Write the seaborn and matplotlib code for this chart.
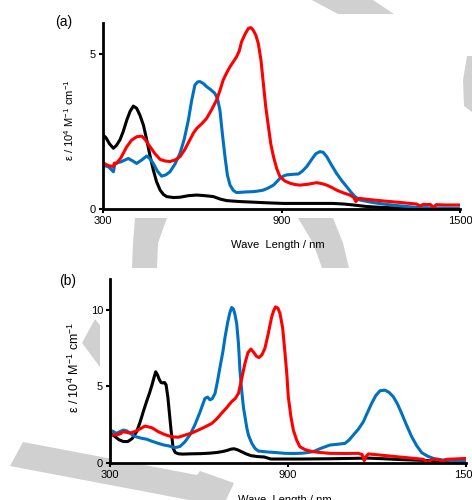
import numpy as np
import pandas as pd
import matplotlib
matplotlib.use("Agg")
import matplotlib.pyplot as plt
from matplotlib.patches import Polygon
import seaborn as sns

# ---------------- data ----------------
series_names = ["black", "blue", "red"]
series_colors = {"black": "#000000", "blue": "#0070C0", "red": "#FF0000"}

a_black_x = [300, 310, 322, 335, 345, 357, 368, 380, 391, 402, 413, 424, 436, 447, 458, 469, 480, 492, 503, 514,
             537, 559, 587, 615, 643, 671, 694, 716, 760, 805, 850, 906, 990, 1074, 1110, 1141, 1186, 1240, 1298,
             1400, 1500]
a_black_y = [2.39, 2.30, 2.10, 1.96, 2.05, 2.23, 2.50, 2.87, 3.15, 3.32, 3.25, 3.03, 2.70, 2.23, 1.72, 1.26, 0.88,
             0.61, 0.47, 0.40, 0.37, 0.38, 0.43, 0.45, 0.43, 0.40, 0.32, 0.27, 0.24, 0.22, 0.20, 0.18, 0.18, 0.18,
             0.16, 0.13, 0.08, 0.05, 0.03, 0.02, 0.02]

a_blue_x = [300, 320, 335, 340, 360, 385, 400, 413, 430, 447, 458, 469, 483, 497, 511, 525, 542, 559, 573, 587,
            598, 609, 618, 626, 637, 648, 662, 676, 685, 693, 701, 710, 718, 727, 738, 749, 780, 805, 822, 839, 856,
            873, 884, 895, 906, 917, 940, 957, 970, 985, 1000, 1015, 1029, 1040, 1052, 1068, 1085, 1102, 1119, 1133,
            1147, 1164, 1200, 1242, 1300, 1354, 1420, 1500]
a_blue_y = [1.42, 1.35, 1.20, 1.47, 1.52, 1.63, 1.55, 1.47, 1.58, 1.71, 1.62, 1.47, 1.22, 1.06, 1.10, 1.20, 1.45,
            1.80, 2.25, 2.87, 3.50, 4.00, 4.10, 4.11, 4.05, 3.95, 3.85, 3.73, 3.55, 3.19, 2.45, 1.69, 1.10, 0.77,
            0.60, 0.53, 0.55, 0.56, 0.58, 0.61, 0.68, 0.77, 0.88, 0.99, 1.06, 1.10, 1.12, 1.13, 1.22, 1.37, 1.58,
            1.78, 1.85, 1.83, 1.69, 1.42, 1.15, 0.92, 0.72, 0.55, 0.40, 0.29, 0.22, 0.16, 0.10, 0.05, 0.03, 0.02]

a_red_x = [300, 318, 335, 338, 345, 360, 380, 396, 413, 430, 441, 458, 475, 492, 508, 525, 542, 559, 575, 592,
           604, 615, 632, 648, 665, 682, 693, 704, 716, 727, 738, 749, 758, 766, 778, 789, 797, 805, 814, 822, 831,
           839, 847, 856, 864, 873, 884, 895, 912, 929, 945, 962, 990, 1018, 1035, 1052, 1068, 1085, 1108, 1130,
           1142, 1150, 1158, 1164, 1200, 1242, 1300, 1354, 1365, 1377, 1390, 1400, 1411, 1420, 1450, 1500]
a_red_y = [1.49, 1.40, 1.37, 1.48, 1.47, 1.65, 2.01, 2.22, 2.33, 2.35, 2.25, 2.01, 1.78, 1.60, 1.55, 1.53, 1.58,
           1.69, 1.92, 2.23, 2.45, 2.60, 2.75, 2.92, 3.20, 3.52, 3.82, 4.16, 4.40, 4.59, 4.75, 4.91, 5.10, 5.40,
           5.65, 5.83, 5.85, 5.77, 5.60, 5.34, 4.80, 4.05, 3.30, 2.66, 2.10, 1.69, 1.30, 1.04, 0.90, 0.83, 0.79,
           0.77, 0.80, 0.85, 0.82, 0.77, 0.70, 0.61, 0.52, 0.45, 0.38, 0.24, 0.33, 0.34, 0.30, 0.26, 0.21, 0.16,
           0.10, 0.15, 0.14, 0.15, 0.05, 0.14, 0.13, 0.13]

b_black_x = [300, 315, 330, 345, 360, 375, 390, 402, 413, 424, 433, 441, 448, 454, 460, 466, 472, 478, 484, 489,
             495, 500, 506, 513, 520, 531, 545, 575, 605, 635, 662, 680, 695, 707, 718, 730, 741, 758, 775, 797,
             820, 842, 900, 944, 1050, 1170, 1230, 1283, 1400, 1500]
b_black_y = [1.95, 1.75, 1.52, 1.40, 1.40, 1.60, 2.05, 2.70, 3.40, 4.05, 4.55, 5.05, 5.55, 5.95, 5.75, 5.45, 5.25,
             5.22, 5.25, 5.10, 4.30, 3.30, 2.10, 0.95, 0.68, 0.60, 0.58, 0.60, 0.61, 0.64, 0.69, 0.75, 0.82, 0.90,
             0.93, 0.86, 0.76, 0.60, 0.48, 0.42, 0.39, 0.26, 0.26, 0.26, 0.28, 0.32, 0.27, 0.22, 0.14, 0.11]

b_blue_x = [300, 311, 322, 334, 345, 356, 368, 379, 390, 407, 424, 441, 463, 480, 497, 519, 536, 553, 570, 586,
            603, 620, 629, 637, 645, 654, 662, 671, 680, 688, 697, 704, 710, 716, 721, 727, 733, 738, 744, 750,
            755, 761, 767, 778, 789, 800, 830, 860, 890, 920, 950, 985, 1010, 1041, 1066, 1092, 1106, 1120, 1137,
            1154, 1168, 1182, 1196, 1210, 1227, 1241, 1255, 1269, 1283, 1300, 1317, 1334, 1351, 1370, 1390, 1420,
            1460, 1500]
b_blue_y = [2.15, 2.05, 1.93, 2.05, 2.15, 2.10, 1.95, 1.78, 1.70, 1.61, 1.55, 1.42, 1.28, 1.18, 1.12, 1.00, 1.08,
            1.39, 1.85, 2.48, 3.30, 4.21, 4.30, 4.12, 4.20, 4.54, 5.30, 6.27, 7.20, 8.23, 9.20, 9.80, 10.14, 10.05,
            9.70, 9.10, 7.80, 6.06, 4.70, 3.60, 3.02, 2.30, 1.80, 1.28, 0.95, 0.78, 0.72, 0.68, 0.63, 0.62, 0.64,
            0.74, 0.95, 1.17, 1.22, 1.28, 1.50, 1.82, 2.20, 2.69, 3.30, 3.89, 4.40, 4.71, 4.75, 4.60, 4.32, 3.85,
            3.24, 2.45, 1.71, 1.12, 0.67, 0.45, 0.30, 0.20, 0.15, 0.10]

b_red_x = [300, 322, 334, 345, 356, 368, 390, 418, 441, 463, 485, 508, 530, 553, 575, 598, 620, 643, 660, 676,
           693, 710, 722, 733, 744, 755, 765, 775, 785, 794, 802, 812, 822, 833, 845, 852, 858, 866, 873, 882, 890,
           896, 901, 910, 918, 929, 940, 957, 974, 1000, 1041, 1090, 1137, 1150, 1157, 1164, 1171, 1220, 1266,
           1310, 1356, 1363, 1370, 1378, 1386, 1410, 1420, 1428, 1435, 1470, 1500]
b_red_y = [1.83, 1.83, 1.90, 2.04, 2.00, 1.95, 2.10, 2.41, 2.30, 2.04, 1.85, 1.71, 1.68, 1.82, 1.95, 2.15, 2.35,
           2.58, 2.88, 3.24, 3.60, 4.00, 4.20, 4.54, 5.50, 6.50, 7.20, 7.43, 7.20, 6.95, 6.88, 7.05, 7.47, 8.40,
           9.53, 9.95, 10.18, 10.10, 9.75, 8.80, 7.15, 5.80, 4.32, 3.00, 2.15, 1.50, 1.06, 0.88, 0.78, 0.70, 0.63,
           0.62, 0.63, 0.55, 0.15, 0.45, 0.59, 0.50, 0.41, 0.33, 0.24, 0.15, 0.02, 0.15, 0.24, 0.22, 0.02, 0.20,
           0.24, 0.27, 0.30]

x_ticks = [300, 900, 1500]
a_y_ticks = [0, 5]
b_y_ticks = [0, 5, 10]
panel_labels = ["(a)", "(b)"]
x_label = "Wave  Length / nm"
y_label = r"$\varepsilon$ / 10$^{4}$ M$^{-1}$ cm$^{-1}$"


def long_frame(xs, ys):
    frames = []
    for name, x, y in zip(series_names, xs, ys):
        frames.append(pd.DataFrame({"wl": x, "eps": y, "series": name}))
    return pd.concat(frames, ignore_index=True)


df_a = long_frame([a_black_x, a_blue_x, a_red_x], [a_black_y, a_blue_y, a_red_y])
df_b = long_frame([b_black_x, b_blue_x, b_red_x], [b_black_y, b_blue_y, b_red_y])

# ---------------- style ----------------
sns.set_theme(style="white")
plt.rcParams["font.family"] = ["Liberation Sans", "DejaVu Sans"]
plt.rcParams["mathtext.fontset"] = "custom"
plt.rcParams["mathtext.rm"] = "Liberation Sans"
plt.rcParams["mathtext.it"] = "Liberation Sans:italic"
plt.rcParams["mathtext.default"] = "regular"

W, H = 472, 500
fig = plt.figure(figsize=(W / 100, H / 100), dpi=100)
fig.patch.set_facecolor("white")


def px_rect(left, top, right, bottom):
    return [left / W, 1 - bottom / H, (right - left) / W, (bottom - top) / H]


# ---------------- decorative watermark (background) ----------------
wm_color = "#d0d0d0"
wm_shapes = [
    [(312, 0), (373, 0), (394, 14), (338, 14)],
    [(467, 56), (472, 56), (472, 112), (464, 106), (463, 80)],
    [(135, 218), (167, 218), (158, 243), (157, 268), (132, 268), (133, 243)],
    [(298, 218), (333, 218), (343, 243), (349, 268), (322, 268), (313, 243)],
    [(95, 319), (82, 343), (100, 367), (100, 325)],
    [(23, 442), (197, 475), (200, 471), (234, 483), (226, 500), (189, 500), (10, 466)],
]
for shp in wm_shapes:
    pts = [(x / W, 1 - y / H) for x, y in shp]
    fig.add_artist(Polygon(pts, closed=True, facecolor=wm_color, edgecolor="none",
                           transform=fig.transFigure, zorder=-5))

# ---------------- panels ----------------
panels = [
    dict(df=df_a, rect=px_rect(103, 23, 460, 209), ylim=(0, 6), yticks=a_y_ticks, ylab_size=8.0,
         label=panel_labels[0], label_xy=(64, 22), ylab_xy=(-0.075, 0.48), xlab_xy=(0.49, -0.165)),
    dict(df=df_b, rect=px_rect(110, 279, 466, 463), ylim=(0, 12), yticks=b_y_ticks, ylab_size=9.0,
         label=panel_labels[1], label_xy=(68, 281), ylab_xy=(-0.078, 0.52), xlab_xy=(0.49, -0.175)),
]

for p in panels:
    ax = fig.add_axes(p["rect"])
    ax.set_facecolor("white")
    sns.lineplot(data=p["df"], x="wl", y="eps", hue="series", hue_order=series_names,
                 palette=series_colors, estimator=None, sort=False, linewidth=2.2,
                 legend=False, ax=ax)
    ax.set_xlim(300, 1500)
    ax.set_ylim(*p["ylim"])
    ax.set_xticks(x_ticks)
    ax.set_yticks(p["yticks"])
    ax.set_xticklabels([str(t) for t in x_ticks])
    ax.set_yticklabels([str(t) for t in p["yticks"]])
    for side in ["top", "right"]:
        ax.spines[side].set_visible(False)
    for side in ["left", "bottom"]:
        ax.spines[side].set_linewidth(2.0)
        ax.spines[side].set_color("black")
    ax.tick_params(axis="both", direction="out", length=3, width=1.5, colors="black",
                   labelsize=8, pad=2, bottom=True, left=True)
    ax.set_xlabel(x_label, fontsize=8, color="black")
    ax.set_ylabel(y_label, fontsize=p["ylab_size"], color="black")
    ax.xaxis.set_label_coords(*p["xlab_xy"])
    ax.yaxis.set_label_coords(*p["ylab_xy"])
    for ln in ax.get_lines():
        ln.set_solid_capstyle("round")
        ln.set_solid_joinstyle("round")
    lx, ly = p["label_xy"]
    fig.text(lx / W, 1 - ly / H, p["label"], fontsize=10, ha="center", va="center", color="black")

fig.savefig("out.png", dpi=100, facecolor="white")
